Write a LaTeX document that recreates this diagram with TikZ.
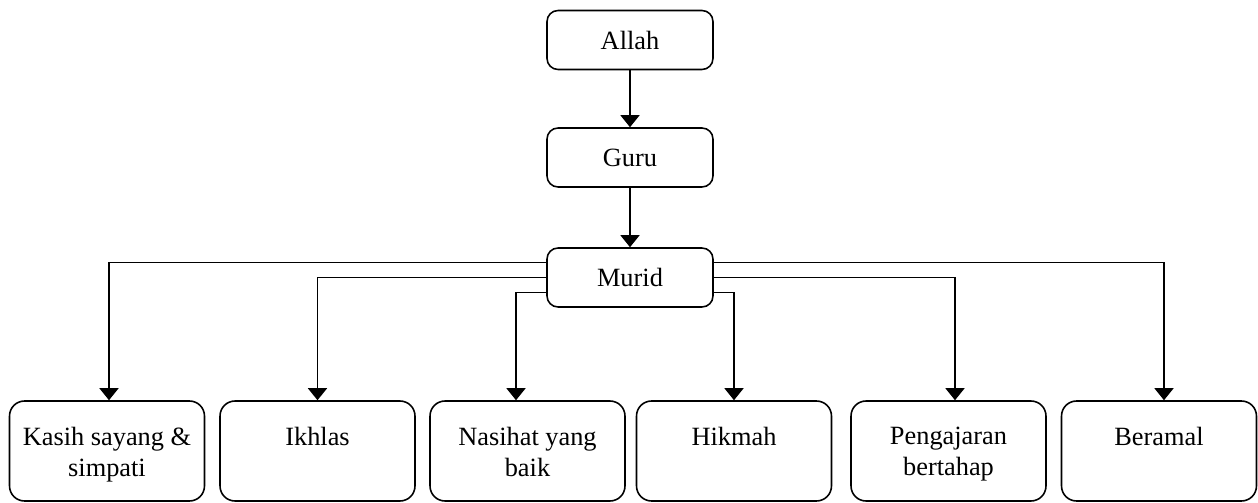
\documentclass[tikz,border=0pt]{standalone}
\usepackage{fontspec}
\setmainfont{Liberation Serif}
\usetikzlibrary{arrows.meta}

\tikzset{
  topbox/.style={draw, line width=0.9pt, rounded corners=0.22cm,
    minimum width=3.32cm, minimum height=1.18cm, inner sep=0pt},
  leafbox/.style={draw, line width=0.9pt, rounded corners=0.3cm,
    minimum width=3.9cm, minimum height=2cm, inner sep=0pt},
  link/.style={line width=0.9pt, -{Triangle[width=0.38cm,length=0.24cm]}}
}
\newcommand{\leaftext}[1]{\parbox[c][0.94cm][t]{3.8cm}{\centering #1}}

\begin{document}
\begin{tikzpicture}[x=0.02cm,y=-0.02cm,font=\fontsize{15}{17.6}\selectfont]
\useasboundingbox (0,0) rectangle (1258,503);
% chain at the top
\node[topbox] (allah) at (630,40) {Allah};
\node[topbox] (guru) at (630,157.5) {Guru};
\node[topbox] (murid) at (630,277.5) {Murid};
% bottom row
\node[leafbox] (kasih) at (107,451) {\leaftext{Kasih sayang \&\\simpati}};
\node[leafbox] (ikhlas) at (317.5,451) {\leaftext{Ikhlas}};
\node[leafbox] (nasihat) at (527.5,451) {\leaftext{Nasihat yang\\baik}};
\node[leafbox] (hikmah) at (734,451) {\leaftext{Hikmah}};
\node[leafbox] (pengajaran) at (948.5,451) {\leaftext{Pengajaran\\bertahap}};
\node[leafbox] (beramal) at (1159,451) {\leaftext{Beramal}};
% connectors
\draw[link] (allah) -- (guru);
\draw[link] (guru) -- (murid);
\draw[link] ([yshift=0.3cm]murid.west) -| ([xshift=0.04cm]kasih.north);
\draw[link] (murid.west) -| (ikhlas.north);
\draw[link] ([yshift=-0.3cm]murid.west) -| ([xshift=-0.23cm]nasihat.north);
\draw[link] ([yshift=-0.3cm]murid.east) -| (hikmah.north);
\draw[link] (murid.east) -| ([xshift=0.13cm]pengajaran.north);
\draw[link] ([yshift=0.3cm]murid.east) -| ([xshift=0.1cm]beramal.north);
\end{tikzpicture}
\end{document}
